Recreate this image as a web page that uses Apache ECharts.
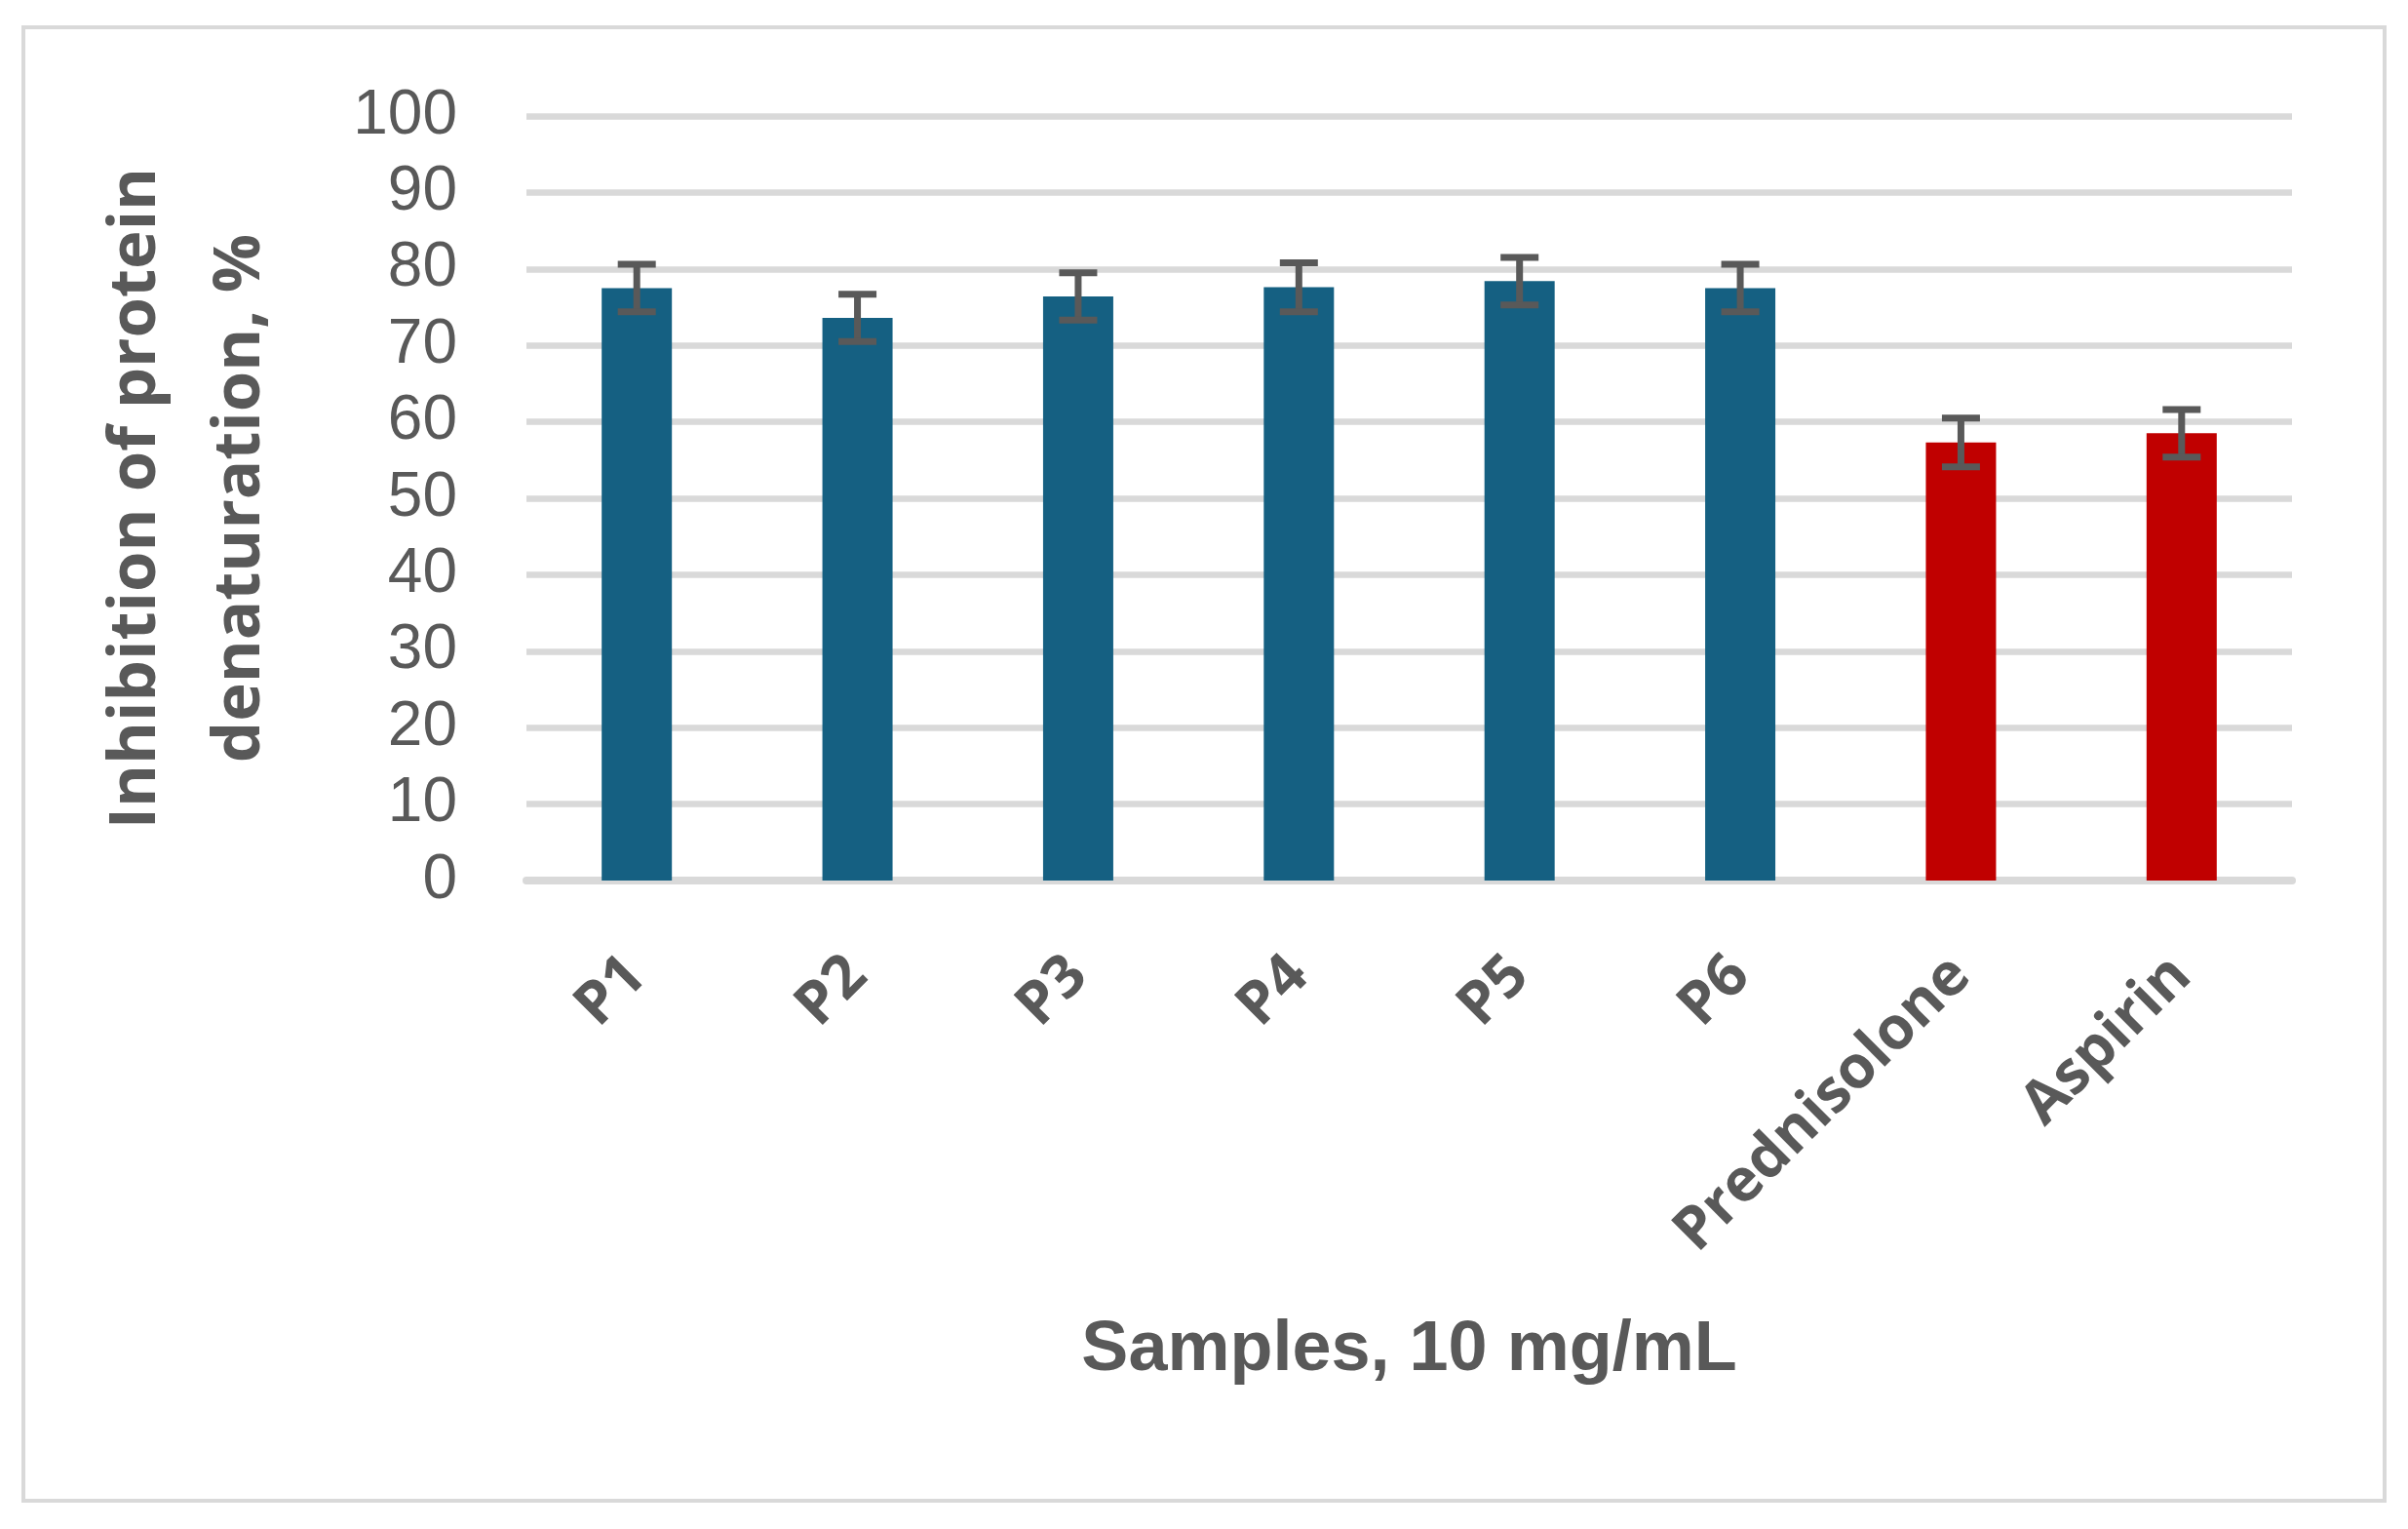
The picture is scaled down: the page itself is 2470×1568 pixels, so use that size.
<!DOCTYPE html>
<html>
<head>
<meta charset="utf-8">
<style>
html,body{margin:0;padding:0;background:#fff;}
#chart{width:2470px;height:1568px;}
</style>
<script src="https://cdn.jsdelivr.net/npm/echarts@6/dist/echarts.min.js"></script>
</head>
<body>
<div id="chart"></div>
<script>
const categories = ['P1', 'P2', 'P3', 'P4', 'P5', 'P6', 'Prednisolone', 'Aspirin'];
const inhibition = [77.5, 73.6, 76.4, 77.6, 78.4, 77.5, 57.3, 58.5];
const errors = [3.1, 3.1, 3.1, 3.2, 3.1, 3.1, 3.2, 3.1];
const referenceDrugs = ['Prednisolone', 'Aspirin'];
const yTicks = [0, 10, 20, 30, 40, 50, 60, 70, 80, 90, 100];

const FONT = '"Liberation Sans", Arial, sans-serif';
const HUMAN = '"Open Sans", "Noto Sans", sans-serif';
const chart = echarts.init(document.getElementById('chart'), null, {renderer: 'canvas'});

const errData = inhibition.map((v, i) => [i, v - errors[i], v + errors[i]]);

chart.setOption({
  backgroundColor: '#ffffff',
  animation: false,
  graphic: [{
    type: 'rect',
    shape: {x: 24, y: 28, width: 2422, height: 1511},
    style: {fill: 'none', stroke: '#D9D9D9', lineWidth: 4},
    silent: true
  }],
  grid: {left: 540, right: 119, top: 119, bottom: 665, containLabel: false},
  xAxis: {
    type: 'category',
    data: categories,
    name: 'Samples, 10 mg/mL',
    nameLocation: 'middle',
    nameGap: 446,
    nameTextStyle: {fontFamily: FONT, fontWeight: 'bold', fontSize: 72, color: '#595959'},
    axisLine: {show: true, lineStyle: {color: '#D9D9D9', width: 8}},
    axisTick: {show: false},
    axisLabel: {
      rotate: 45, margin: 88, interval: 0,
      fontFamily: HUMAN, fontWeight: 'bold', fontSize: 61, color: '#595959'
    }
  },
  yAxis: {
    type: 'value',
    min: 0, max: 100, interval: 10,
    name: 'Inhibition of protein\ndenaturation, %',
    nameLocation: 'middle',
    nameGap: 240,
    nameTextStyle: {fontFamily: HUMAN, fontWeight: 'bold', fontSize: 67, color: '#595959', lineHeight: 107},
    axisLine: {show: false},
    axisTick: {show: false},
    axisLabel: {
      margin: 71, fontFamily: FONT, fontSize: 64, color: '#595959',
      formatter: v => (yTicks.indexOf(v) >= 0 ? String(v) : '')
    },
    splitLine: {show: true, lineStyle: {color: '#D9D9D9', width: 6.5}}
  },
  series: [{
    type: 'bar',
    data: inhibition,
    barWidth: 72,
    itemStyle: {
      color: p => referenceDrugs.indexOf(categories[p.dataIndex]) >= 0 ? '#C00000' : '#156082'
    },
    z: 2
  }, {
    type: 'custom',
    data: errData,
    z: 5,
    renderItem: function (params, api) {
      const x = api.value(0);
      const lo = api.coord([x, api.value(1)]);
      const hi = api.coord([x, api.value(2)]);
      const half = 19.5;
      const st = {stroke: '#595959', lineWidth: 7};
      return {
        type: 'group',
        children: [
          {type: 'line', shape: {x1: lo[0], y1: lo[1], x2: hi[0], y2: hi[1]}, style: st},
          {type: 'line', shape: {x1: lo[0] - half, y1: lo[1], x2: lo[0] + half, y2: lo[1]}, style: st},
          {type: 'line', shape: {x1: hi[0] - half, y1: hi[1], x2: hi[0] + half, y2: hi[1]}, style: st}
        ]
      };
    }
  }]
});
</script>
</body>
</html>
